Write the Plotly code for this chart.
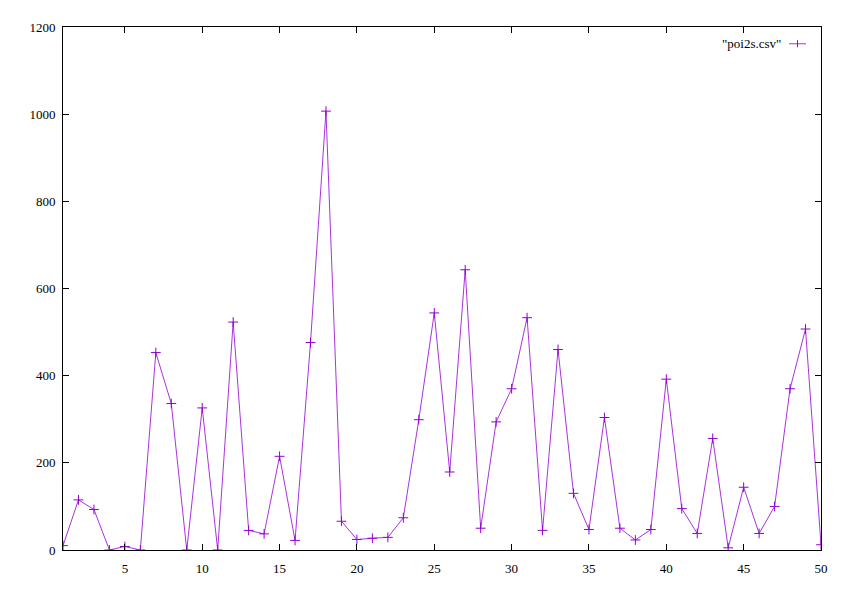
import plotly.graph_objects as go

x_vals = list(range(1, 51))
y_vals = [10, 115, 93, 0, 8, 0, 453, 336, 0, 326,
          0, 523, 45, 37, 215, 22, 476, 1007, 66, 24,
          27, 29, 74, 299, 544, 179, 643, 50, 294, 370,
          533, 45, 460, 130, 47, 304, 50, 23, 47, 392,
          95, 38, 256, 5, 144, 38, 100, 370, 507, 12]
series_name = '"poi2s.csv"'
x_ticks = [5, 10, 15, 20, 25, 30, 35, 40, 45, 50]
y_ticks = [0, 200, 400, 600, 800, 1000, 1200]

color = "#9400D3"
line_color = "rgba(148,0,211,0.8)"
font = dict(family="Times New Roman", size=13, color="black")

# page body has an 8px margin; plot area target: left 63, right 821, top 20, bottom 550
OFF = 8
L, R, T, B = 63 - OFF, 821 - OFF, 20 - OFF, 550 - OFF
W, H = 846, 594

fig = go.Figure()
fig.add_trace(go.Scatter(
    x=x_vals, y=y_vals, mode="lines+markers", name=series_name,
    line=dict(color=line_color, width=1),
    marker=dict(symbol="cross-thin", size=7, line=dict(color=color, width=1)),
    showlegend=False,
))

axis_common = dict(showline=True, linecolor="black", linewidth=1, mirror="ticks",
                   ticks="inside", ticklen=6, tickcolor="black", tickwidth=1,
                   showgrid=False, zeroline=False, tickfont=font)

fig.update_layout(
    width=W, height=H,
    margin=dict(l=L, r=W - R, t=T, b=H - B),
    paper_bgcolor="white", plot_bgcolor="white",
    font=font,
    xaxis=dict(range=[1, 50], tickvals=x_ticks, ticklabelstandoff=6, **axis_common),
    yaxis=dict(range=[0, 1200], tickvals=y_ticks, ticklabelstandoff=4, **axis_common),
)

pw, ph = R - L, B - T
# gnuplot-style key: text on the left, sample on the right
ky = (B - (37 - OFF)) / ph
fig.add_annotation(xref="paper", yref="paper", x=(783 - 63) / pw, y=ky,
                   text=series_name, showarrow=False, xanchor="right", yanchor="middle",
                   font=font)
kx0, kx1 = (789 - 63) / pw, (806 - 63) / pw
fig.add_shape(type="line", xref="paper", yref="paper", x0=kx0, x1=kx1, y0=ky, y1=ky,
              line=dict(color=line_color, width=1))
kxm = (kx0 + kx1) / 2
fig.add_shape(type="line", xref="paper", yref="paper", x0=kxm, x1=kxm,
              y0=ky - 3.5 / ph, y1=ky + 3.5 / ph, line=dict(color=color, width=1))

fig.write_html("out.html")
